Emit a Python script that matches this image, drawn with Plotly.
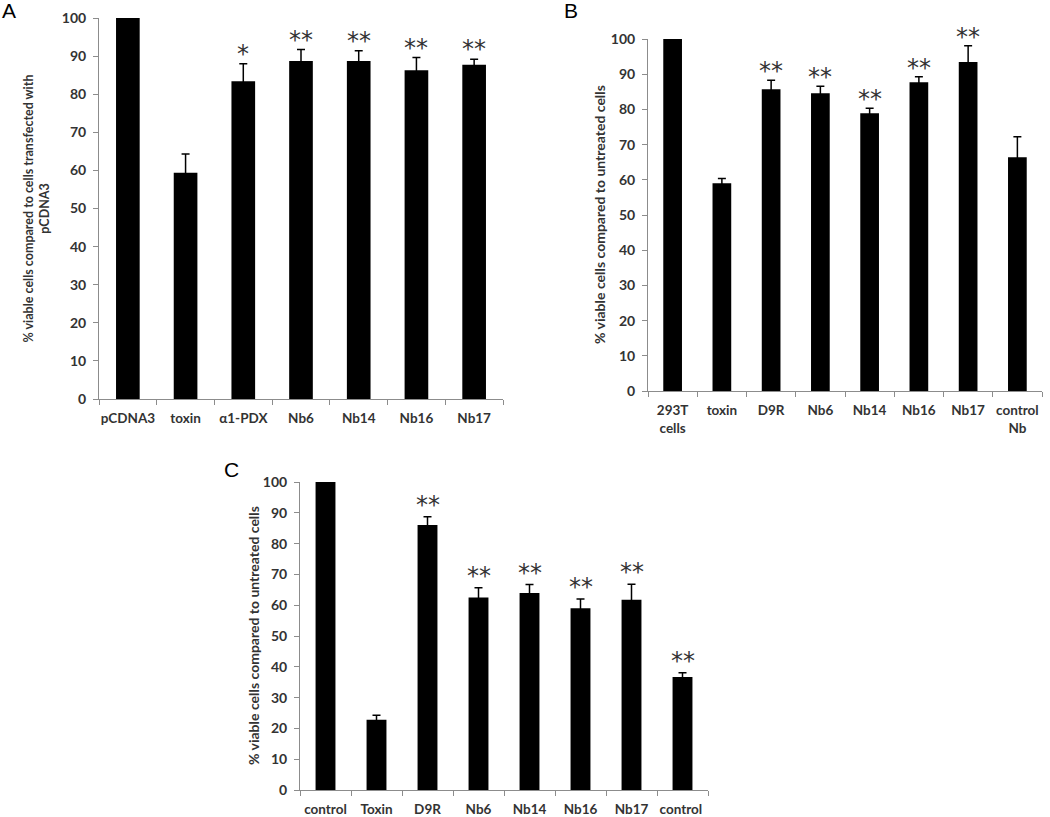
import plotly.graph_objects as go

# Panel A data
a_cats = ["pCDNA3", "toxin", "α1-PDX", "Nb6", "Nb14", "Nb16", "Nb17"]
a_vals = [100, 59.4, 83.4, 88.7, 88.7, 86.3, 87.7]
a_err = [None, 4.9, 4.6, 3.0, 2.7, 3.3, 1.5]
a_sig = ["", "", "*", "**", "**", "**", "**"]

# Panel B data
b_cats = ["293T<br>cells", "toxin", "D9R", "Nb6", "Nb14", "Nb16", "Nb17", "control<br>Nb"]
b_vals = [100, 59.0, 85.7, 84.6, 78.9, 87.7, 93.5, 66.4]
b_err = [None, 1.4, 2.6, 2.0, 1.4, 1.6, 4.6, 5.8]
b_sig = ["", "", "**", "**", "**", "**", "**", ""]

# Panel C data
c_cats = ["control", "Toxin", "D9R", "Nb6", "Nb14", "Nb16", "Nb17", "control "]
c_vals = [100, 22.8, 86.0, 62.5, 64.0, 59.0, 61.8, 36.7]
c_err = [None, 1.5, 2.7, 3.2, 2.7, 3.0, 5.0, 1.4]
c_sig = ["", "", "**", "**", "**", "**", "**", "**"]

W, H = 1050, 817
FONT = "Lato"
TICKCOL = "#333333"
AXCOL = "#8c8c8c"


def px_x(p):
    return p / W


def px_y(p):
    return 1 - p / H


panels = [
    dict(cats=a_cats, vals=a_vals, err=a_err, sig=a_sig, bw=0.41, star_shift=-6,
         xd=[px_x(99), px_x(503)], yd=[px_y(399), px_y(18)],
         title="% viable cells compared to cells transfected with<br>pCDNA3", tx=36, ts=12.5,
         label="A", lx=9, ly=10),
    dict(cats=b_cats, vals=b_vals, err=b_err, sig=b_sig, bw=0.38, star_shift=-7,
         xd=[px_x(648), px_x(1042)], yd=[px_y(391), px_y(39)],
         title="% viable cells compared to untreated cells", tx=600, ts=14,
         label="B", lx=571, ly=10),
    dict(cats=c_cats, vals=c_vals, err=c_err, sig=c_sig, bw=0.39, star_shift=-4,
         xd=[px_x(300), px_x(708)], yd=[px_y(790), px_y(482)],
         title="% viable cells compared to untreated cells", tx=253, ts=14,
         label="C", lx=231, ly=470),
]

fig = go.Figure()
annotations = []
for i, p in enumerate(panels, start=1):
    xa = "x" if i == 1 else f"x{i}"
    ya = "y" if i == 1 else f"y{i}"
    fig.add_trace(go.Bar(
        x=p["cats"], y=p["vals"], width=p["bw"],
        marker=dict(color="black", line=dict(width=0)),
        error_y=dict(type="data", array=p["err"], symmetric=True,
                     color="black", thickness=1.5, width=4),
        xaxis=xa, yaxis=ya, showlegend=False, hoverinfo="skip",
    ))
    axkey = "xaxis" if i == 1 else f"xaxis{i}"
    aykey = "yaxis" if i == 1 else f"yaxis{i}"
    fig.layout[axkey] = dict(
        domain=p["xd"], anchor=ya, type="category", tickangle=0,
        showline=True, linecolor=AXCOL, linewidth=1,
        ticks="outside", tickson="boundaries", ticklen=5, tickcolor=AXCOL,
        ticklabelstandoff=7,
        tickfont=dict(family=FONT, size=13.5, color=TICKCOL, weight="bold"),
        showgrid=False, zeroline=False, automargin=False, fixedrange=True,
    )
    fig.layout[aykey] = dict(
        domain=p["yd"], anchor=xa, range=[0, 100], dtick=10,
        showline=True, linecolor=AXCOL, linewidth=1,
        ticks="outside", ticklen=5, tickcolor=AXCOL,
        ticklabelstandoff=4,
        tickfont=dict(family=FONT, size=14, color=TICKCOL, weight="bold"),
        showgrid=False, zeroline=False, automargin=False, fixedrange=True,
    )
    # axis title
    ymid = (p["yd"][0] + p["yd"][1]) / 2
    annotations.append(dict(
        text=p["title"], x=px_x(p["tx"]), y=ymid, xref="paper", yref="paper",
        textangle=-90, showarrow=False, xanchor="center", yanchor="middle",
        font=dict(family=FONT, size=p["ts"], color=TICKCOL, weight="bold"),
    ))
    # panel label
    annotations.append(dict(
        text=p["label"], x=px_x(p["lx"]), y=px_y(p["ly"]), xref="paper", yref="paper",
        showarrow=False, xanchor="center", yanchor="middle",
        font=dict(family="Liberation Sans", size=21, color="black"),
    ))
    # significance stars
    for c, v, e, s in zip(p["cats"], p["vals"], p["err"], p["sig"]):
        if not s:
            continue
        top = v + (e or 0)
        annotations.append(dict(
            text=s, x=c, y=top, xref=xa, yref=ya, showarrow=False,
            xanchor="center", yanchor="bottom", yshift=p["star_shift"],
            font=dict(family="DejaVu Sans", size=24, color="#333333"),
        ))

fig.update_layout(
    width=W, height=H, margin=dict(l=0, r=0, t=0, b=0),
    paper_bgcolor="white", plot_bgcolor="white",
    annotations=annotations,
)

# remove the default 8px page margin so the figure fills the window exactly
fig.write_html("out.html", config={"displayModeBar": False, "staticPlot": True},
               post_script="document.body.style.margin='0';")
